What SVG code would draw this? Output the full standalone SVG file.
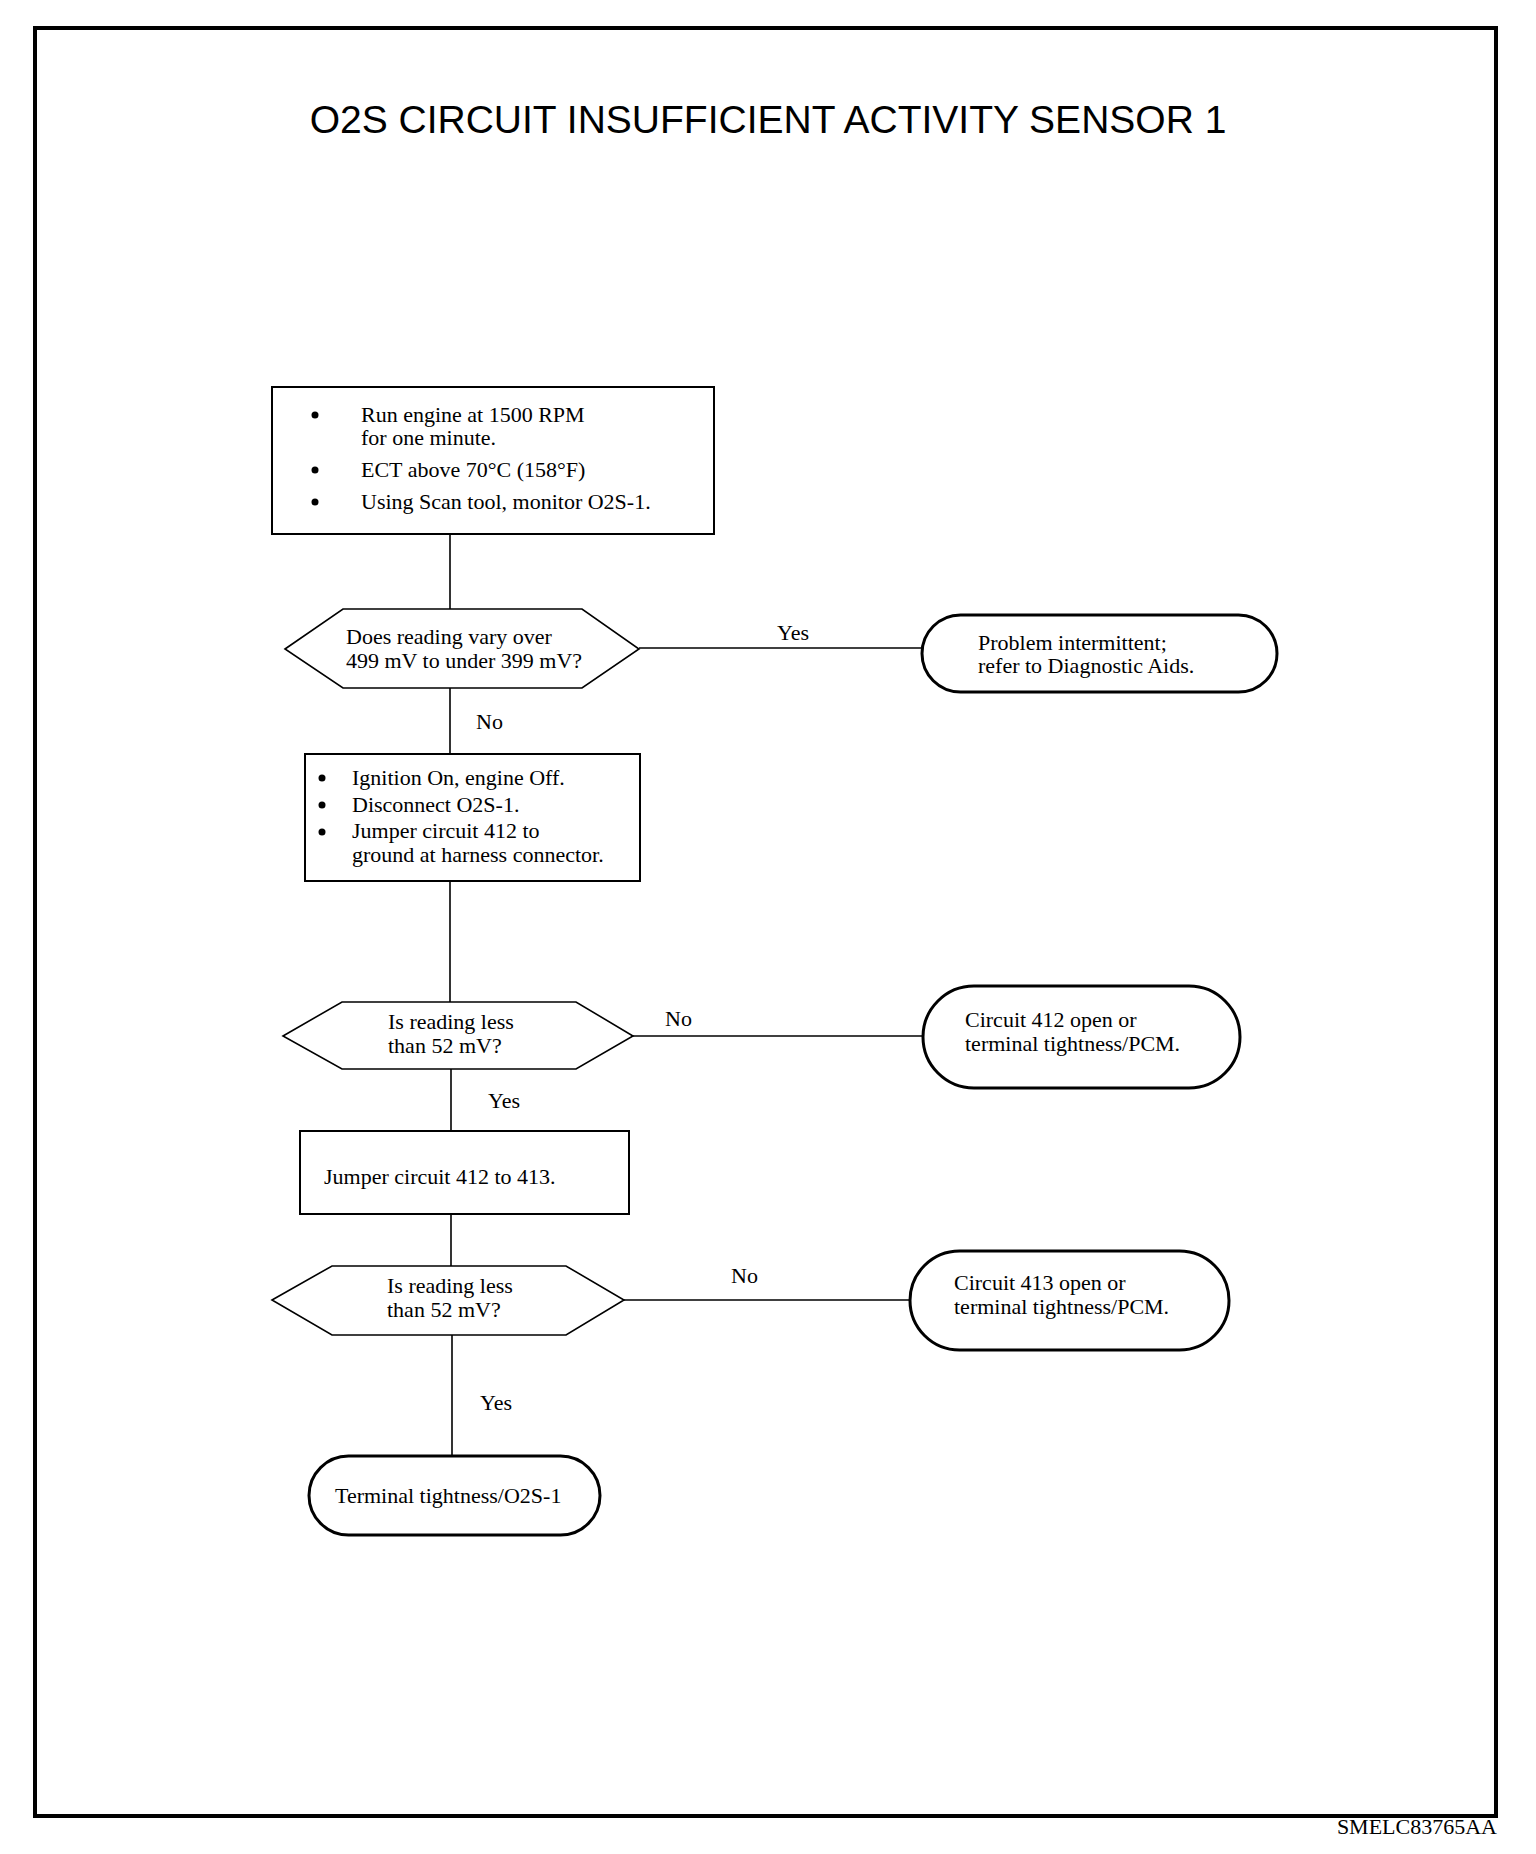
<svg xmlns="http://www.w3.org/2000/svg" width="1536" height="1854" viewBox="0 0 1536 1854">
<style>
.t{font-family:"Liberation Serif","Times New Roman",serif;font-size:22px;fill:#000}
.title{font-family:"Liberation Sans",Arial,sans-serif;font-size:39px;fill:#000}
.box{fill:#fff;stroke:#000;stroke-width:2}
.hex{fill:#fff;stroke:#000;stroke-width:1.6}
.term{fill:#fff;stroke:#000;stroke-width:3}
.conn{stroke:#000;stroke-width:1.6;fill:none}
</style>
<rect width="1536" height="1854" fill="#fff"/>
<rect id="frame" x="35" y="28" width="1461" height="1788" fill="none" stroke="#000" stroke-width="4"/>
<text class="title" x="768" y="133" text-anchor="middle">O2S CIRCUIT INSUFFICIENT ACTIVITY SENSOR 1</text>
<g id="connectors">
<line class="conn" x1="450" y1="534" x2="450" y2="609"/>
<line class="conn" x1="639" y1="648" x2="922" y2="648"/>
<line class="conn" x1="450" y1="688" x2="450" y2="754"/>
<line class="conn" x1="450" y1="881" x2="450" y2="1002"/>
<line class="conn" x1="633" y1="1036" x2="923" y2="1036"/>
<line class="conn" x1="451" y1="1069" x2="451" y2="1131"/>
<line class="conn" x1="451" y1="1214" x2="451" y2="1266"/>
<line class="conn" x1="624" y1="1300" x2="910" y2="1300"/>
<line class="conn" x1="452" y1="1335" x2="452" y2="1456"/>
<text class="t" x="777" y="640">Yes</text>
<text class="t" x="476" y="729">No</text>
<text class="t" x="665" y="1026">No</text>
<text class="t" x="488" y="1108">Yes</text>
<text class="t" x="731" y="1283">No</text>
<text class="t" x="480" y="1410">Yes</text>
</g>
<g id="box1">
<rect class="box" x="272" y="387" width="442" height="147"/>
<circle cx="315" cy="415" r="3.5"/>
<circle cx="315" cy="470" r="3.5"/>
<circle cx="315" cy="502" r="3.5"/>
<text class="t" x="361" y="422">Run engine at 1500 RPM</text>
<text class="t" x="361" y="445">for one minute.</text>
<text class="t" x="361" y="477">ECT above 70°C (158°F)</text>
<text class="t" x="361" y="509">Using Scan tool, monitor O2S-1.</text>
</g>
<g id="decision1">
<polygon class="hex" points="285,649 343,609 582,609 639,649 582,688 343,688"/>
<text class="t" x="346" y="644">Does reading vary over</text>
<text class="t" x="346" y="668">499 mV to under 399 mV?</text>
</g>
<g id="term1">
<rect class="term" x="922" y="615" width="355" height="77" rx="38.5"/>
<text class="t" x="978" y="650">Problem intermittent;</text>
<text class="t" x="978" y="673">refer to Diagnostic Aids.</text>
</g>
<g id="box2">
<rect class="box" x="305" y="754" width="335" height="127"/>
<circle cx="322" cy="778" r="3.5"/>
<circle cx="322" cy="805" r="3.5"/>
<circle cx="322" cy="832" r="3.5"/>
<text class="t" x="352" y="785">Ignition On, engine Off.</text>
<text class="t" x="352" y="812">Disconnect O2S-1.</text>
<text class="t" x="352" y="838">Jumper circuit 412 to</text>
<text class="t" x="352" y="862">ground at harness connector.</text>
</g>
<g id="decision2">
<polygon class="hex" points="283,1036 342,1002 576,1002 633,1036 576,1069 342,1069"/>
<text class="t" x="388" y="1029">Is reading less</text>
<text class="t" x="388" y="1053">than 52 mV?</text>
</g>
<g id="term2">
<rect class="term" x="923" y="986" width="317" height="102" rx="51"/>
<text class="t" x="965" y="1027">Circuit 412 open or</text>
<text class="t" x="965" y="1051">terminal tightness/PCM.</text>
</g>
<g id="box3">
<rect class="box" x="300" y="1131" width="329" height="83"/>
<text class="t" x="324" y="1184">Jumper circuit 412 to 413.</text>
</g>
<g id="decision3">
<polygon class="hex" points="272,1300 332,1266 566,1266 624,1300 566,1335 332,1335"/>
<text class="t" x="387" y="1293">Is reading less</text>
<text class="t" x="387" y="1317">than 52 mV?</text>
</g>
<g id="term3">
<rect class="term" x="910" y="1251" width="319" height="99" rx="49.5"/>
<text class="t" x="954" y="1290">Circuit 413 open or</text>
<text class="t" x="954" y="1314">terminal tightness/PCM.</text>
</g>
<g id="term4">
<rect class="term" x="309" y="1456" width="291" height="79" rx="39.5"/>
<text class="t" x="335" y="1503">Terminal tightness/O2S-1</text>
</g>
<text class="t" x="1497" y="1834" text-anchor="end" font-size="23">SMELC83765AA</text>
</svg>
